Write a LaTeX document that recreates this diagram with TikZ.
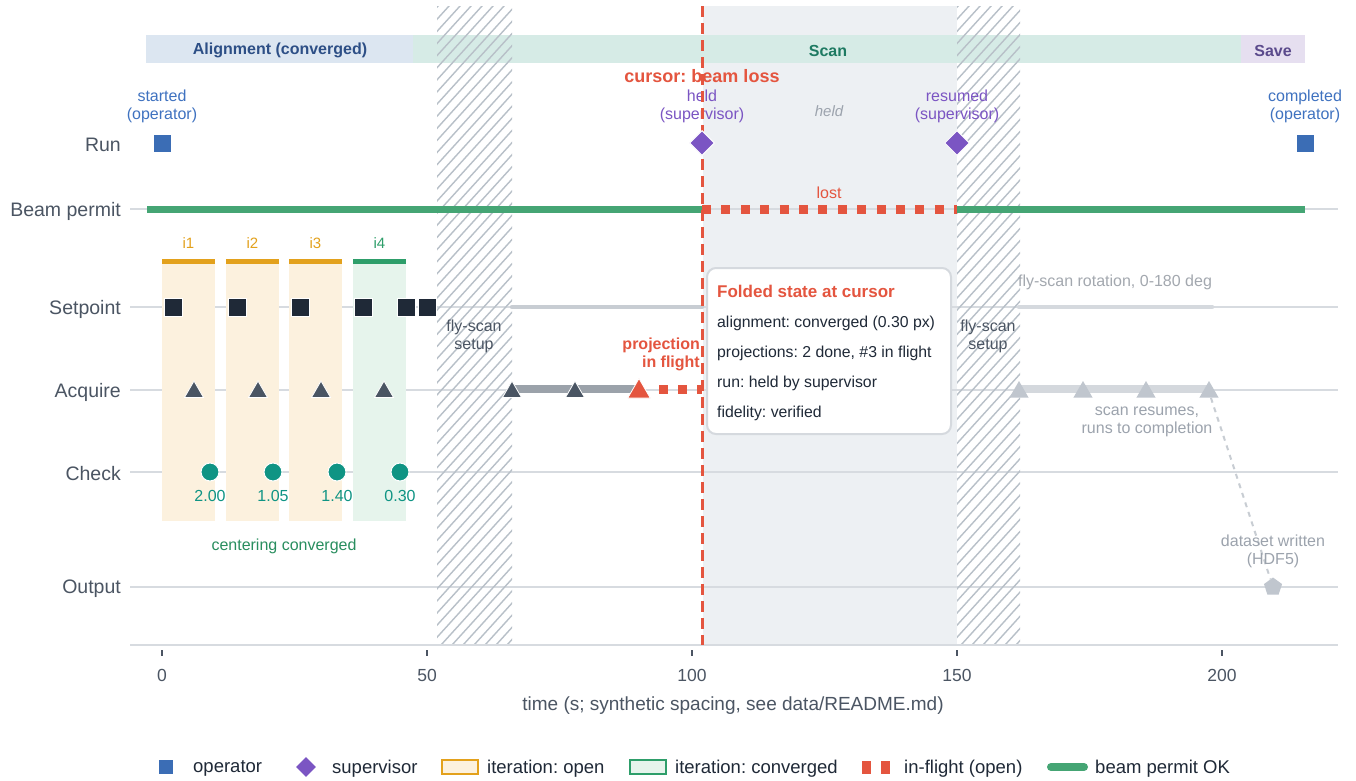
\documentclass[tikz,border=0pt]{standalone}
\usepackage{fontspec}
\setmainfont{Liberation Sans}
\usetikzlibrary{shapes.geometric}
\frenchspacing
\definecolor{gridc}{HTML}{D7DBE0}
\definecolor{axtext}{HTML}{4B5563}
\definecolor{heldbg}{HTML}{EDF0F3}
\definecolor{alignbg}{HTML}{DCE6F1}
\definecolor{aligntx}{HTML}{2D4F86}
\definecolor{scanbg}{HTML}{D6EBE6}
\definecolor{scantx}{HTML}{1E7A62}
\definecolor{savebg}{HTML}{E6DFF0}
\definecolor{savetx}{HTML}{5B4A8C}
\definecolor{hatchc}{HTML}{B8C0C8}
\definecolor{opblue}{HTML}{3B6DB5}
\definecolor{opbluetx}{HTML}{3F72C0}
\definecolor{suppurple}{HTML}{7B55C3}
\definecolor{beamgreen}{HTML}{45A574}
\definecolor{redc}{HTML}{E4553F}
\definecolor{orangec}{HTML}{E3A11C}
\definecolor{orangebg}{HTML}{FCF1DE}
\definecolor{greenc}{HTML}{2E9E6A}
\definecolor{greenbg}{HTML}{E6F4EC}
\definecolor{tealc}{HTML}{0F9484}
\definecolor{darksq}{HTML}{1F2937}
\definecolor{darktri}{HTML}{4A5563}
\definecolor{barmid}{HTML}{9BA2AA}
\definecolor{barlight}{HTML}{C8CDD3}
\definecolor{lightmark}{HTML}{C0C6CE}
\definecolor{lighttx}{HTML}{9CA3AD}
\definecolor{tipborder}{HTML}{D5D9DE}
\tikzset{
  gridline/.style={draw=gridc, line width=1.5pt},
  axlab/.style={font=\fontsize{19.5}{22}\selectfont, text=axtext, anchor=east, inner sep=0},
  ticklab/.style={font=\fontsize{17.5}{20}\selectfont, text=axtext, inner sep=0},
  bandlab/.style={font=\fontsize{16}{19}\selectfont\bfseries, inner sep=0},
  ann/.style={font=\fontsize{16}{18}\selectfont, align=center, inner sep=0},
  hatchline/.style={draw=hatchc, line width=1.4pt},
  opsq/.style={rectangle, fill=opblue, minimum size=17pt, inner sep=0},
  supdia/.style={diamond, fill=suppurple, draw=white, line width=1pt, minimum size=25pt, inner sep=0},
  setsq/.style={rectangle, fill=darksq, draw=white, line width=1pt, minimum size=18pt, inner sep=0},
  acqtri/.style={regular polygon, regular polygon sides=3, fill=darktri, draw=white, line width=0.8pt, minimum size=22pt, inner sep=0},
  chkdot/.style={circle, fill=tealc, draw=white, line width=1pt, minimum size=18pt, inner sep=0},
  chklab/.style={font=\fontsize{16}{18}\selectfont, text=tealc, inner sep=0},
  itlab/.style={font=\fontsize{15}{18}\selectfont, inner sep=0},
  tiptext/.style={font=\fontsize{15.8}{18}\selectfont, text=darksq, anchor=west, inner sep=0},
  legtext/.style={font=\fontsize{18.5}{20}\selectfont, text=darksq, anchor=west, inner sep=0},
}
\begin{document}
\begin{tikzpicture}[x=1pt,y=-1pt]
\useasboundingbox[fill=white] (0,0) rectangle (1356,780);

% held region shade
\fill[heldbg] (703,6) rectangle (957,645);

% gridlines
\foreach \yy in {209,307,390,472,587} \draw[gridline] (130,\yy) -- (1338,\yy);

% phase bands
\fill[alignbg] (146,35) rectangle (413,63);
\fill[scanbg] (413,35) rectangle (1241,63);
\fill[savebg] (1241,35) rectangle (1305,63);
\node[bandlab, text=aligntx] (phA) at (280,50.5) {Alignment (converged)};
\node[bandlab, text=scantx] (phS) at (828,50.5) {Scan};
\node[bandlab, text=savetx] (phV) at (1273,50.5) {Save};

% hatched regions
\begin{scope}
  \clip (437,6) rectangle (512,645);
  \foreach \k in {0,...,70} \draw[hatchline] ({437-590+\k*11},645) -- ++(590,-650);
\end{scope}
\begin{scope}
  \clip (957,6) rectangle (1020,645);
  \foreach \k in {0,...,70} \draw[hatchline] ({957-590+\k*11},645) -- ++(590,-650);
\end{scope}

% axis
\draw[draw=gridc, line width=2pt] (130,645) -- (1338,645);
\foreach \tx/\tl in {162/0,427/50,692/100,957/150,1222/200} {
  \draw[draw=axtext, line width=1.5pt] (\tx,650) -- (\tx,656);
  \node[ticklab] (tick\tl) at (\tx,675) {\tl};
}
\node[font=\fontsize{19}{22}\selectfont, text=axtext, inner sep=0] (xtitle) at (733,706) {time (s; synthetic spacing, see data/README.md)};

% row labels
\node[axlab] (lRun) at (121,145) {Run};
\node[axlab] (lBeam) at (121,211) {Beam permit};
\node[axlab] (lSet) at (121,309) {Setpoint};
\node[axlab] (lAcq) at (121,392) {Acquire};
\node[axlab] (lChk) at (121,474) {Check};
\node[axlab] (lOut) at (121,589) {Output};

% iteration boxes
\foreach \xa/\xb/\nm in {162/215/1,226/279/2,289/342/3} {
  \fill[orangebg] (\xa,264) rectangle (\xb,521);
  \draw[draw=orangec, line width=5pt] (\xa,261.5) -- (\xb,261.5);
  \node[itlab, text=orangec] (it\nm) at ({(\xa+\xb)/2},243) {i\nm};
}
\fill[greenbg] (353,264) rectangle (406,521);
\draw[draw=greenc, line width=5pt] (353,261.5) -- (406,261.5);
\node[itlab, text=greenc] (it4) at (379.5,243) {i4};
\node[ann, text=greenc!90!black] (conv) at (284,546) {centering converged};

% fly-scan labels
\node[ann, text=axtext] (fs1) at (474,336) {fly-scan\\setup};
\node[ann, text=axtext] (fs2) at (988,336) {fly-scan\\setup};

% Run row
\node[opsq] (rStart) at (162,143) {};
\node[opsq] (rEnd) at (1305,143) {};
\node[ann, text=opbluetx] (aStart) at (162,106) {started\\(operator)};
\node[ann, text=opbluetx] (aEnd) at (1305,106) {completed\\(operator)};
\node[ann, text=suppurple] (aHeld) at (702,106) {held\\(supervisor)};
\node[ann, text=suppurple] (aRes) at (957,106) {resumed\\(supervisor)};
\node[ann, text=lighttx, font=\fontsize{15}{18}\selectfont\itshape] (heldTxt) at (829,111) {held};

% Beam permit
\coordinate (bA) at (147,209);
\coordinate (bB) at (702,209);
\coordinate (bC) at (957,209);
\coordinate (bD) at (1305,209);
\draw[draw=beamgreen, line width=7pt] (bA) -- (bB);
\draw[draw=beamgreen, line width=7pt] (bC) -- (bD);
\draw[draw=redc, line width=9pt, dash pattern=on 9pt off 10.4pt] (bB) -- (bC);
\node[ann, text=redc] (lost) at (829,193) {lost};

% Setpoint row
\coordinate (spA) at (512,307);
\coordinate (spB) at (702,307);
\coordinate (spC) at (1019,307);
\coordinate (spD) at (1212,307);
\draw[draw=barlight, line width=4.5pt, line cap=round] (spA) -- (spB);
\draw[draw=gridc!85!barlight, line width=4.5pt, line cap=round] (spC) -- (spD);
\node[ann, text=lightmark!85!black] (rotTxt) at (1115,282) {fly-scan rotation, 0-180 deg};
\foreach \sx [count=\i] in {173,237,300,363,406,427} \node[setsq] (sp\i) at (\sx,307) {};

% Acquire row
\node[acqtri] (ac1) at (194,392) {};
\node[acqtri] (ac2) at (258,392) {};
\node[acqtri] (ac3) at (321,392) {};
\node[acqtri] (ac4) at (384,392) {};
\draw[draw=barmid, line width=8pt] (512,389) -- (638,389);
\node[acqtri] (af1) at (512,392) {};
\node[acqtri] (af2) at (575,392) {};
\coordinate (redEnd) at (702,389);
\node[acqtri, fill=redc, minimum size=26pt] (afRed) at (639,391.5) {};
\draw[draw=redc, line width=9pt, dash pattern=on 9pt off 10pt] (659,389) -- (redEnd);
\node[ann, text=redc, font=\fontsize{16}{18}\selectfont\bfseries, align=right, anchor=east] (inflight) at (700,354) {projection\\in flight};
\draw[draw=gridc!80!barlight, line width=8pt] (1019,389) -- (1210,389);
\foreach \ax [count=\i] in {1019,1083,1146,1209} \node[acqtri, fill=lightmark, draw=none] (ar\i) at (\ax,392) {};
\node[ann, text=lighttx] (resTxt) at (1147,422) {scan resumes,\\runs to completion};

% Check row
\foreach \cx/\cv [count=\i] in {210/2.00,273/1.05,337/1.40,400/0.30} {
  \node[chkdot] (ck\i) at (\cx,472) {};
  \node[chklab] (cv\i) at (\cx,496) {\cv};
}

% Output row
\node[regular polygon, regular polygon sides=5, fill=lightmark, minimum size=19pt, inner sep=0] (out) at (1273,587) {};
\draw[draw=barlight, line width=2pt, dash pattern=on 5pt off 5pt] (ar4) -- (out);
\node[ann, text=lighttx] (dsTxt) at (1273,551) {dataset written\\(HDF5)};

% cursor
\coordinate (curTop) at (702,6);
\coordinate (curBot) at (702,645);
\draw[draw=redc, line width=3pt, dash pattern=on 11pt off 6pt] (curTop) -- (curBot);
\node[supdia] (dHeld) at (702,143) {};
\node[supdia] (dRes) at (957,143) {};
\node[text=redc, font=\fontsize{18}{20}\selectfont\bfseries, inner sep=0] (curLab) at (702,76) {cursor: beam loss};

% tooltip
\node[draw=tipborder, fill=white, line width=2pt, rounded corners=9pt, minimum width=244pt, minimum height=166pt, inner sep=0] (tip) at (829,351) {};
\node[tiptext, text=redc, font=\fontsize{17}{20}\selectfont\bfseries] (tipT) at ([xshift=11pt,yshift=-24pt]tip.north west) {Folded state at cursor};
\node[tiptext] (tip1) at ([xshift=11pt,yshift=-56pt]tip.north west) {alignment: converged (0.30 px)};
\node[tiptext] (tip2) at ([xshift=11pt,yshift=-86pt]tip.north west) {projections: 2 done, \#3 in flight};
\node[tiptext] (tip3) at ([xshift=11pt,yshift=-116pt]tip.north west) {run: held by supervisor};
\node[tiptext] (tip4) at ([xshift=11pt,yshift=-146pt]tip.north west) {fidelity: verified};

% legend
\node[rectangle, fill=opblue, minimum size=14pt, inner sep=0] (lgOpM) at (166,767) {};
\node[legtext] (lgOp) at (193,768.5) {operator};
\node[diamond, fill=suppurple, minimum size=20pt, inner sep=0] (lgSupM) at (306,767) {};
\node[legtext] (lgSup) at (332,768.5) {supervisor};
\node[rectangle, fill=orangebg, draw=orangec, line width=2pt, minimum width=36pt, minimum height=14pt, inner sep=0] (lgItM) at (459.5,767) {};
\node[legtext] (lgIt) at (487,768.5) {iteration: open};
\node[rectangle, fill=greenbg, draw=greenc, line width=2pt, minimum width=36pt, minimum height=14pt, inner sep=0] (lgCvM) at (647.5,767) {};
\node[legtext] (lgCv) at (675,768.5) {iteration: converged};
\node[rectangle, fill=redc, minimum width=9pt, minimum height=13pt, inner sep=0] (lgRa) at (866,767) {};
\node[rectangle, fill=redc, minimum width=9pt, minimum height=13pt, inner sep=0] (lgRb) at (885,767) {};
\node[legtext] (lgIf) at (904,768.5) {in-flight (open)};
\coordinate (lgBa) at (1051,767);
\coordinate (lgBb) at (1084,767);
\draw[draw=beamgreen, line width=8pt, line cap=round] (lgBa) -- (lgBb);
\node[legtext] (lgBm) at (1095,768.5) {beam permit OK};
\end{tikzpicture}
\end{document}
